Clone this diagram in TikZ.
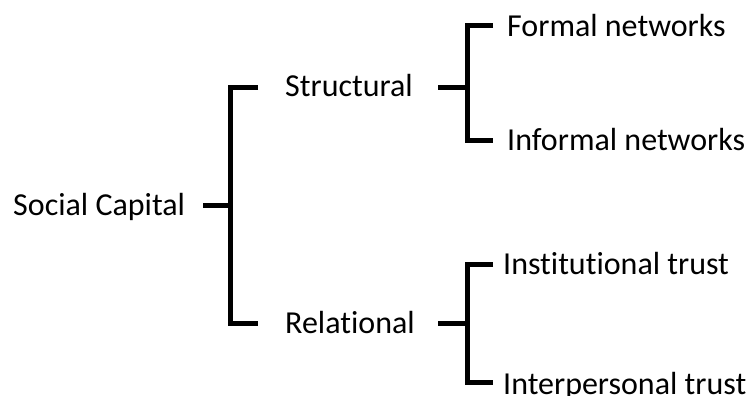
\documentclass[tikz,border=0pt]{standalone}
\usepackage{fontspec}
\setmainfont{Carlito}[Ligatures=NoCommon]
\begin{document}
\begin{tikzpicture}[x=1pt,y=-1pt,
  bracket/.style={line width=5pt},
  label/.style={anchor=base west, inner sep=0pt, font=\fontsize{32}{38}\selectfont}]
\useasboundingbox (0,0) rectangle (747,396);

% labels
\node[label] (sc) at (13,215) {Social Capital};
\node[label] (st) at (285,96) {Structural};
\node[label] (rel) at (285,333) {Relational};
\node[label] (fn) at (507,37) {Formal networks};
\node[label] (inf) at (507,150) {Informal networks};
\node[label] (it) at (503,274) {Institutional trust};
\node[label] (ip) at (503,394) {Interpersonal trust};

% first-level bracket
\coordinate (a-in) at (203,205);
\coordinate (a-mid) at (230,205);
\coordinate (a-top) at (258,87);
\coordinate (a-bot) at (258,323);
\draw[bracket] (a-in) -- (a-mid);
\draw[bracket] (a-top) -| (a-mid) |- (a-bot);

% bracket under Structural
\coordinate (b-in) at (438,87);
\coordinate (b-mid) at (467,87);
\coordinate (b-top) at (493,26);
\coordinate (b-bot) at (493,140);
\draw[bracket] (b-in) -- (b-mid);
\draw[bracket] (b-top) -| (b-mid) |- (b-bot);

% bracket under Relational
\coordinate (c-in) at (438,323);
\coordinate (c-mid) at (467,323);
\coordinate (c-top) at (493,264);
\coordinate (c-bot) at (493,382);
\draw[bracket] (c-in) -- (c-mid);
\draw[bracket] (c-top) -| (c-mid) |- (c-bot);
\end{tikzpicture}
\end{document}
